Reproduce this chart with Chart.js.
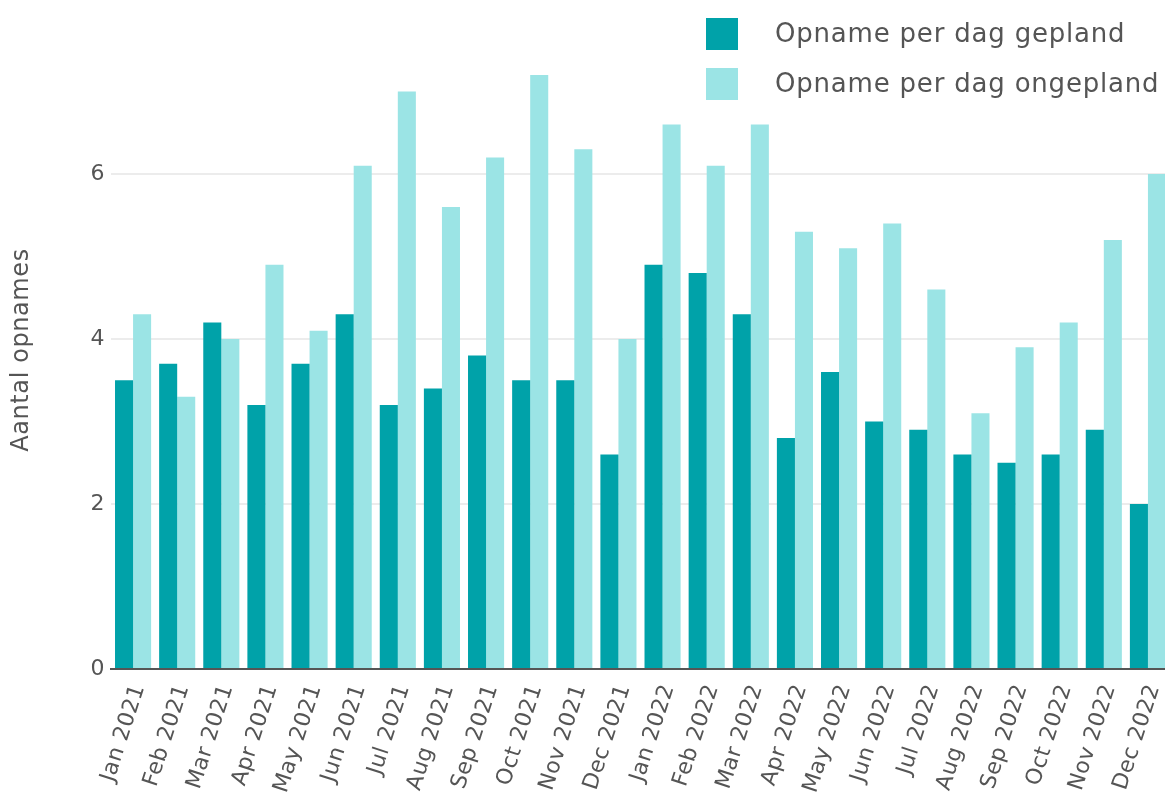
<!DOCTYPE html>
<html>
<head>
<meta charset="utf-8">
<script src="https://cdn.jsdelivr.net/npm/chart.js@4"></script>
<style>
    html, body { margin: 0; padding: 0; background: #fff; overflow: hidden; }
    #wrap { width: 1170px; height: 794px; }
</style>
</head>
<body>
<div id="wrap"><canvas id="opnameChart" width="1170" height="794"></canvas></div>
<script>
// Monthly admissions per day, planned vs unplanned
const months = ['Jan 2021', 'Feb 2021', 'Mar 2021', 'Apr 2021', 'May 2021', 'Jun 2021',
    'Jul 2021', 'Aug 2021', 'Sep 2021', 'Oct 2021', 'Nov 2021', 'Dec 2021',
    'Jan 2022', 'Feb 2022', 'Mar 2022', 'Apr 2022', 'May 2022', 'Jun 2022',
    'Jul 2022', 'Aug 2022', 'Sep 2022', 'Oct 2022', 'Nov 2022', 'Dec 2022'];
const gepland = [3.5, 3.7, 4.2, 3.2, 3.7, 4.3, 3.2, 3.4, 3.8, 3.5, 3.5, 2.6,
    4.9, 4.8, 4.3, 2.8, 3.6, 3.0, 2.9, 2.6, 2.5, 2.6, 2.9, 2.0];
const ongepland = [4.3, 3.3, 4.0, 4.9, 4.1, 6.1, 7.0, 5.6, 6.2, 7.2, 6.3, 4.0,
    6.6, 6.1, 6.6, 5.3, 5.1, 5.4, 4.6, 3.1, 3.9, 4.2, 5.2, 6.0];
const yTicks = [0, 2, 4, 6];

const FONT = '"DejaVu Sans", sans-serif';
const TEXT = '#555';

// Slightly airy lettering for the axis text
const spacing = {
    id: 'spacing',
    beforeDraw(chart) {
        chart.ctx.letterSpacing = '0.5px';
    }
};

// Legend top-right and the vertical axis title
const sideLegend = {
    id: 'sideLegend',
    afterDraw(chart) {
        const ctx = chart.ctx;
        ctx.save();
        ctx.letterSpacing = '0.8px';
        ctx.font = '26px ' + FONT;
        ctx.textBaseline = 'middle';
        chart.data.datasets.forEach((ds, i) => {
            const cy = 34 + i * 50;
            ctx.fillStyle = ds.backgroundColor;
            ctx.fillRect(706, cy - 16, 32, 32);
            ctx.fillStyle = TEXT;
            ctx.fillText(ds.label, 775, cy + 1);
        });

        ctx.translate(22, 350);
        ctx.rotate(-Math.PI / 2);
        ctx.letterSpacing = '0.6px';
        ctx.font = '24px ' + FONT;
        ctx.textAlign = 'center';
        ctx.fillText('Aantal opnames', 0, 0);
        ctx.restore();
    }
};

new Chart(document.getElementById('opnameChart').getContext('2d'), {
    type: 'bar',
    data: {
        labels: months,
        datasets: [{
            label: 'Opname per dag gepland',
            data: gepland,
            backgroundColor: '#00a2a9',
            barPercentage: 1,
            categoryPercentage: 0.818
        }, {
            label: 'Opname per dag ongepland',
            data: ongepland,
            backgroundColor: '#9be4e5',
            barPercentage: 1,
            categoryPercentage: 0.818
        }]
    },
    options: {
        responsive: false,
        animation: false,
        layout: { padding: { top: 75, left: 0, right: 0, bottom: 0 } },
        plugins: {
            legend: { display: false },
            tooltip: { enabled: false }
        },
        scales: {
            x: {
                grid: { display: false, drawTicks: false },
                border: { display: true, color: '#555', width: 2 },
                ticks: {
                    autoSkip: false,
                    minRotation: 72,
                    maxRotation: 72,
                    padding: 12,
                    labelOffset: 6,
                    color: TEXT,
                    font: { family: FONT, size: 22 }
                },
                afterFit(scale) {
                    scale.height = 125;
                    scale.paddingLeft = 0;
                    scale.paddingRight = 0;
                }
            },
            y: {
                min: 0,
                max: 7.2,
                grid: { color: '#ececec', lineWidth: 2, drawTicks: false },
                border: { display: false },
                afterBuildTicks(scale) {
                    scale.ticks = yTicks.map(v => ({ value: v }));
                },
                ticks: {
                    padding: 6,
                    color: TEXT,
                    font: { family: FONT, size: 22 }
                },
                afterFit(scale) {
                    scale.width = 111;
                    scale.paddingTop = 0;
                    scale.paddingBottom = 0;
                }
            }
        }
    },
    plugins: [spacing, sideLegend]
});
</script>
</body>
</html>
